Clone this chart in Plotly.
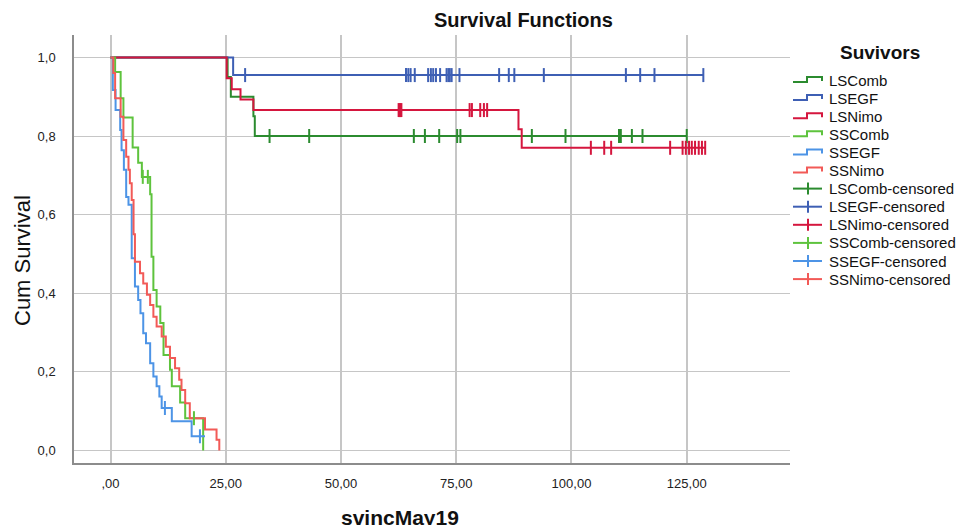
import plotly.graph_objects as go

# ---------------- data ----------------
series_names = ["LSComb", "LSEGF", "LSNimo", "SSComb", "SSEGF", "SSNimo"]

lscomb_t = [0, 25.4, 26.1, 31.0, 31.3]
lscomb_s = [1.0, 0.95, 0.90, 0.85, 0.80]
lscomb_cens = [34.5, 43.1, 65.8, 68.2, 71.3, 75.2, 75.9, 91.4, 98.7, 110.3, 110.7, 113.1, 115.4, 125.0]

lsegf_t = [0, 26.6]
lsegf_s = [1.0, 0.955]
lsegf_cens = [29.2, 64.1, 64.6, 65.1, 66.0, 68.9, 69.5, 70.0, 70.6, 71.5, 72.9, 73.3, 73.6, 74.0,
              75.7, 84.3, 86.4, 87.6, 94.0, 111.8, 114.9, 118.0, 128.6]

lsnimo_t = [0, 25.2, 26.3, 28.2, 31.0, 88.5, 89.2]
lsnimo_s = [1.0, 0.947, 0.919, 0.893, 0.866, 0.817, 0.770]
lsnimo_cens = [62.5, 62.8, 63.1, 77.9, 78.4, 80.2, 81.0, 81.7, 104.2, 107.1, 108.6, 121.4, 124.1,
               124.8, 125.5, 126.1, 126.8, 127.6, 128.3, 129.0]

sscomb_t = [0, 1.0, 2.2, 2.8, 4.8, 6.0, 6.8, 8.6, 8.9, 9.3, 10.0, 10.8, 11.5, 12.9, 13.3, 15.1, 16.2, 20.1]
sscomb_s = [1.0, 0.963, 0.896, 0.847, 0.771, 0.732, 0.696, 0.652, 0.493, 0.408, 0.366, 0.324,
            0.243, 0.205, 0.163, 0.122, 0.082, 0.0]
sscomb_cens = [7.0, 8.1, 18.1]

ssegf_t = [0, 0.5, 1.1, 2.1, 2.4, 2.9, 3.4, 3.9, 4.6, 5.3, 6.0, 6.5, 7.1, 7.7, 8.6, 9.3, 10.0,
           10.6, 11.1, 13.3, 17.6]
ssegf_s = [1.0, 0.917, 0.866, 0.815, 0.764, 0.714, 0.645, 0.625, 0.489, 0.417, 0.383, 0.349,
           0.298, 0.273, 0.222, 0.188, 0.163, 0.137, 0.108, 0.074, 0.036]
ssegf_cens = [11.8, 19.4]
ssegf_end = 20.5

ssnimo_t = [0, 0.6, 1.0, 2.2, 2.8, 3.4, 3.9, 4.2, 4.6, 5.0, 5.3, 6.4, 7.1, 7.9, 8.6, 9.3, 10.0,
            11.1, 12.0, 12.9, 14.0, 14.9, 15.4, 16.2, 17.2, 20.5, 23.0, 23.6]
ssnimo_s = [1.0, 0.96, 0.896, 0.849, 0.79, 0.747, 0.714, 0.68, 0.637, 0.55, 0.48, 0.451, 0.425,
            0.396, 0.37, 0.34, 0.315, 0.29, 0.264, 0.235, 0.209, 0.18, 0.154, 0.12, 0.082, 0.053,
            0.027, 0.0]
ssnimo_cens = []

x_tickvals = [0, 25, 50, 75, 100, 125]
x_ticktext = [",00", "25,00", "50,00", "75,00", "100,00", "125,00"]
y_tickvals = [0, 0.2, 0.4, 0.6, 0.8, 1.0]
y_ticktext = ["0,0", "0,2", "0,4", "0,6", "0,8", "1,0"]

colors = ["#2b8b2f", "#3e5fb4", "#d5163e", "#5ec33d", "#4d94e6", "#f25a57"]

curves = [
    (lscomb_t, lscomb_s, lscomb_cens, None),
    (lsegf_t, lsegf_s, lsegf_cens, None),
    (lsnimo_t, lsnimo_s, lsnimo_cens, None),
    (sscomb_t, sscomb_s, sscomb_cens, None),
    (ssegf_t, ssegf_s, ssegf_cens, ssegf_end),
    (ssnimo_t, ssnimo_s, ssnimo_cens, None),
]


def surv_at(t, times, surv):
    v = surv[0]
    for tt, ss in zip(times, surv):
        if tt <= t:
            v = ss
    return v


fig = go.Figure()

for name, col, (t, s, cens, end) in zip(series_names, colors, curves):
    last = max([t[-1]] + cens + ([end] if end else []))
    fig.add_trace(go.Scatter(x=t + [last], y=s + [s[-1]], mode="lines", name=name,
                             line=dict(color=col, width=2, shape="hv"), showlegend=False))

for name, col, (t, s, cens, end) in zip(series_names, colors, curves):
    if not cens:
        continue
    fig.add_trace(go.Scatter(x=cens, y=[surv_at(c, t, s) for c in cens], mode="markers",
                             name=name + "-censored", showlegend=False,
                             marker=dict(symbol="line-ns", size=10,
                                         line=dict(color=col, width=2))))

# ---------------- layout ----------------
W, H = 966, 525
L, R, T, B = 74, 790, 35, 463


def px(xp):
    return (xp - L) / (R - L)


def py(yp):
    return (B - yp) / (B - T)


FONT = "Liberation Sans, Arial, sans-serif"

fig.update_layout(
    width=W, height=H,
    margin=dict(l=L, r=W - R, t=T, b=H - B),
    paper_bgcolor="white", plot_bgcolor="white",
    font=dict(family=FONT, color="#222222", size=13),
    xaxis=dict(range=[-7.92, 147.4], tickvals=x_tickvals, ticktext=x_ticktext,
               showgrid=True, gridcolor="#c6c6c6", gridwidth=1.6, zeroline=False,
               showline=True, linecolor="#8c8c8c", linewidth=1.5, ticks="",
               ticklabelstandoff=8, tickfont=dict(size=13, color="#222222")),
    yaxis=dict(range=[-0.032, 1.057], tickvals=y_tickvals, ticktext=y_ticktext,
               showgrid=True, gridcolor="#c6c6c6", gridwidth=1, zeroline=False,
               showline=True, linecolor="#8c8c8c", linewidth=1.5, ticks="",
               ticklabelstandoff=14, tickfont=dict(size=13, color="#222222")),
    showlegend=False,
)

ann = []
ann.append(dict(text="<b>Survival Functions</b>", x=px(523), y=py(20), xref="paper", yref="paper",
                showarrow=False, font=dict(size=20, family=FONT, color="#111111"),
                xanchor="center", yanchor="middle"))
ann.append(dict(text="<b>svincMay19</b>", x=px(400), y=py(517), xref="paper", yref="paper",
                showarrow=False, font=dict(size=21, family=FONT, color="#111111"),
                xanchor="center", yanchor="middle"))
ann.append(dict(text="Cum Survival", x=px(22), y=py(260), xref="paper", yref="paper",
                showarrow=False, textangle=-90, font=dict(size=22, family=FONT, color="#111111"),
                xanchor="center", yanchor="middle"))
ann.append(dict(text="<b>Suvivors</b>", x=px(880), y=py(52), xref="paper", yref="paper",
                showarrow=False, font=dict(size=19, family=FONT, color="#111111"),
                xanchor="center", yanchor="middle"))

shapes = []
legend_names = series_names + [n + "-censored" for n in series_names]
legend_cols = colors + colors
y0, dy = 80.0, 18.1
for i, (nm, col) in enumerate(zip(legend_names, legend_cols)):
    yc = y0 + i * dy
    ann.append(dict(text=nm, x=px(827), y=py(yc), xref="paper", yref="paper", showarrow=False,
                    font=dict(size=15, family=FONT, color="#111111"),
                    xanchor="left", yanchor="middle"))
    if i < 6:
        path = "M {a},{b} L {c},{b} L {c},{d} L {e},{d} L {e},{f}".format(
            a=px(793), b=py(yc + 2), c=px(807), d=py(yc - 3), e=px(822), f=py(yc + 1))
        shapes.append(dict(type="path", xref="paper", yref="paper", path=path,
                           line=dict(color=col, width=2)))
    else:
        shapes.append(dict(type="line", xref="paper", yref="paper", x0=px(793), x1=px(822),
                           y0=py(yc), y1=py(yc), line=dict(color=col, width=2)))
        shapes.append(dict(type="line", xref="paper", yref="paper", x0=px(808), x1=px(808),
                           y0=py(yc - 6), y1=py(yc + 6), line=dict(color=col, width=2)))

fig.update_layout(annotations=ann, shapes=shapes)

fig.write_html("out.html", config={"displayModeBar": False},
               post_script="document.body.style.margin='0px';")
